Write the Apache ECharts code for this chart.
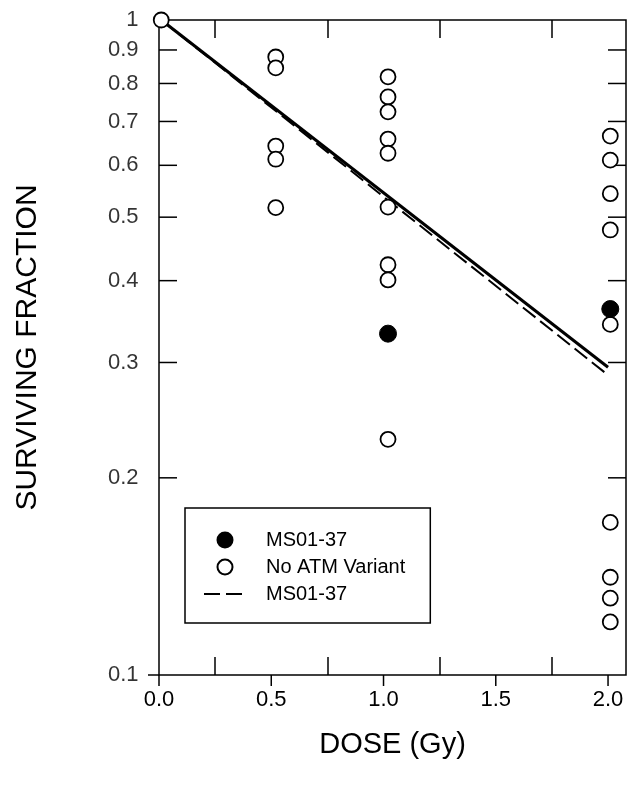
<!DOCTYPE html>
<html>
<head>
<meta charset="utf-8">
<title>Surviving fraction vs dose</title>
<script src="https://cdn.jsdelivr.net/npm/echarts@6/dist/echarts.min.js"></script>
<style>
  html, body { margin: 0; padding: 0; background: #fff; }
  #chart { width: 640px; height: 790px; }
</style>
</head>
<body>
<div id="chart"></div>
<script>
// axis ticks
var xMax = 2.08;
var xTicks = [0, 0.5, 1.0, 1.5, 2.0];
var xTickLabels = ['0.0', '0.5', '1.0', '1.5', '2.0'];
var xMinorTicks = [0.25, 0.75, 1.25, 1.75];
var yTicks = [1, 0.9, 0.8, 0.7, 0.6, 0.5, 0.4, 0.3, 0.2, 0.1];
var yTickLabels = ['1', '0.9', '0.8', '0.7', '0.6', '0.5', '0.4', '0.3', '0.2', '0.1'];
var yMinorTicks = [0.9, 0.8, 0.7, 0.6, 0.5, 0.4, 0.3, 0.2];
var yMajorTicks = [0.1];

// MS01-37 (filled circles)
var msDose = [1.02, 2.01];
var msSF = [0.332, 0.362];

// No ATM variant (open circles)
var noAtmDose = [0.01,
  0.52, 0.52, 0.52, 0.52, 0.52,
  1.02, 1.02, 1.02, 1.02, 1.02, 1.02, 1.02, 1.02, 1.02,
  2.01, 2.01, 2.01, 2.01, 2.01, 2.01, 2.01, 2.01, 2.01];
var noAtmSF = [1.0,
  0.878, 0.845, 0.642, 0.613, 0.517,
  0.819, 0.763, 0.724, 0.658, 0.626, 0.518, 0.423, 0.401, 0.229,
  0.665, 0.611, 0.543, 0.478, 0.343, 0.171, 0.141, 0.131, 0.1205];

// fitted curves
var fitDose = [0.01, 2.0];
var fitSolid = [1.0, 0.295];
var fitDashed = [1.0, 0.287];

function pairs(xs, ys) {
  var out = [];
  for (var i = 0; i < xs.length; i++) out.push([xs[i], ys[i]]);
  return out;
}
function atX(x, vals) {
  return vals.map(function (v) { return [x, v]; });
}
function atY(y, vals) {
  return vals.map(function (v) { return [v, y]; });
}

var font = 'Arial, "Liberation Sans", Helvetica, sans-serif';
var chart = echarts.init(document.getElementById('chart'));

// short black bars used as tick marks, positioned by the axes' scales
var tickSeries = function (data, size, offset) {
  return {
    type: 'scatter',
    silent: true,
    clip: false,
    symbol: 'rect',
    symbolSize: size,
    symbolOffset: offset,
    itemStyle: { color: '#000', opacity: 1 },
    data: data,
    z: 1
  };
};

var option = {
  backgroundColor: '#fff',
  animation: false,
  grid: {
    left: 159, right: 14, top: 20, bottom: 115,
    show: true, borderColor: '#000', borderWidth: 1.5,
    backgroundColor: 'transparent'
  },
  legend: {
    orient: 'vertical',
    left: 185, top: 508,
    padding: [22, 25, 19, 18],
    itemGap: 7,
    itemWidth: 42,
    itemHeight: 15,
    borderColor: '#000',
    borderWidth: 1.5,
    selectedMode: false,
    textStyle: { fontFamily: font, fontSize: 20, color: '#000', padding: [0, 0, 0, 15] },
    formatter: function (name) { return name.trim(); },
    data: [
      { name: 'MS01-37' },
      { name: 'No ATM Variant' },
      { name: 'MS01-37 ', itemStyle: { opacity: 0 } }
    ]
  },
  xAxis: [
    {
      type: 'value', min: 0, max: xMax, interval: 0.5,
      position: 'bottom',
      name: 'DOSE (Gy)', nameLocation: 'middle', nameGap: 55,
      nameTextStyle: { fontFamily: font, fontSize: 29, color: '#000' },
      axisLine: { show: false, onZero: false },
      axisTick: { show: false },
      axisLabel: {
        customValues: xTicks, margin: 14,
        fontFamily: font, fontSize: 22, color: '#000',
        formatter: function (v) {
          var i = xTicks.indexOf(v);
          return i >= 0 ? xTickLabels[i] : '';
        }
      },
      splitLine: { show: false }
    },
    {
      type: 'value', min: 0, max: xMax, position: 'bottom',
      axisLine: { show: false, onZero: false },
      axisTick: { show: true, inside: true, length: 18, customValues: xMinorTicks,
        lineStyle: { color: '#000', width: 1.5 } },
      axisLabel: { show: false },
      splitLine: { show: false }
    },
    {
      type: 'value', min: 0, max: xMax, position: 'top',
      axisLine: { show: false, onZero: false },
      axisTick: { show: true, inside: true, length: 18, customValues: xMinorTicks,
        lineStyle: { color: '#000', width: 1.5 } },
      axisLabel: { show: false },
      splitLine: { show: false }
    }
  ],
  yAxis: {
    type: 'log', logBase: 10, min: 0.1, max: 1,
    name: 'SURVIVING FRACTION', nameLocation: 'middle', nameGap: 116,
    nameTextStyle: { fontFamily: font, fontSize: 30, color: '#000' },
    axisLine: { show: false },
    axisTick: { show: false },
    axisLabel: { show: false },
    splitLine: { show: false }
  },
  series: [
    // y tick labels, placed through the log scale
    {
      type: 'scatter', silent: true, clip: false,
      symbolSize: 1, itemStyle: { color: 'rgba(0,0,0,0)' },
      data: atX(0, yTicks),
      label: {
        show: true, position: 'left', distance: 20,
        fontFamily: font, fontSize: 22, color: '#000',
        formatter: function (p) { return yTickLabels[p.dataIndex]; }
      }
    },
    tickSeries(atX(0, yMinorTicks), [18, 1.5], [9, 0]),
    tickSeries(atX(xMax, yMinorTicks), [18, 1.5], [-9, 0]),
    tickSeries(atX(0, yMajorTicks), [11, 1.5], [-5.5, 0]),
    tickSeries(atY(0.1, xTicks), [1.5, 11], [0, 5.5]),
    {
      name: 'fit', type: 'line', data: pairs(fitDose, fitSolid),
      symbol: 'none', clip: false,
      itemStyle: { color: '#000' },
      lineStyle: { color: '#000', width: 3 }, z: 3
    },
    {
      name: 'MS01-37 ', type: 'line', data: pairs(fitDose, fitDashed),
      symbol: 'none', clip: false,
      itemStyle: { color: '#000' },
      lineStyle: { color: '#000', width: 2, type: [16, 6] }, z: 3
    },
    {
      name: 'No ATM Variant', type: 'scatter', clip: false,
      data: pairs(noAtmDose, noAtmSF),
      symbol: 'circle', symbolSize: 15,
      itemStyle: { color: '#fff', borderColor: '#000', borderWidth: 1.8, opacity: 1 }, z: 4
    },
    {
      name: 'MS01-37', type: 'scatter', clip: false,
      data: pairs(msDose, msSF),
      symbol: 'circle', symbolSize: 17,
      itemStyle: { color: '#000', borderColor: '#000', borderWidth: 1, opacity: 1 }, z: 5
    }
  ]
};

chart.setOption(option);
</script>
</body>
</html>
